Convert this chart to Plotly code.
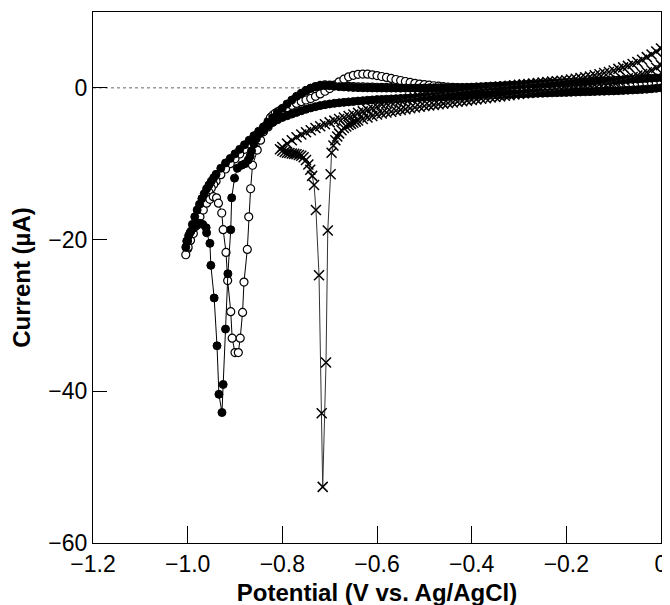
import plotly.graph_objects as go

# ---------------- data ----------------
# Filled circles: forward sweep 0 -> -1.0 V
filled_fwd_v = [0.0, -0.01, -0.02, -0.03, -0.04, -0.05, -0.06, -0.07, -0.08, -0.09,
                -0.10, -0.11, -0.12, -0.13, -0.14, -0.15, -0.16, -0.17, -0.18, -0.19,
                -0.20, -0.21, -0.22, -0.23, -0.24, -0.25, -0.26, -0.27, -0.28, -0.29,
                -0.30, -0.31, -0.32, -0.33, -0.34, -0.35, -0.36, -0.37, -0.38, -0.39,
                -0.40, -0.41, -0.42, -0.43, -0.44, -0.45, -0.46, -0.47, -0.48, -0.49,
                -0.50, -0.51, -0.52, -0.53, -0.54, -0.55, -0.56, -0.57, -0.58, -0.59,
                -0.60, -0.61, -0.62, -0.63, -0.64, -0.65, -0.66, -0.67, -0.68, -0.69,
                -0.70, -0.71, -0.72, -0.73, -0.74, -0.75, -0.76, -0.77, -0.78, -0.79,
                -0.80, -0.81, -0.82, -0.83, -0.84, -0.85, -0.86, -0.87, -0.88, -0.89,
                -0.90, -0.91, -0.92, -0.93, -0.94,
                -0.945, -0.95, -0.955, -0.96, -0.965, -0.97, -0.975, -0.98, -0.985,
                -0.99, -0.995, -1.0, -1.004]
filled_fwd_i = [1.35, 1.31, 1.27, 1.23, 1.19, 1.15, 1.12, 1.09, 1.06, 1.03,
                1.00, 0.97, 0.94, 0.91, 0.88, 0.85, 0.82, 0.79, 0.76, 0.73,
                0.70, 0.67, 0.64, 0.61, 0.58, 0.55, 0.52, 0.49, 0.46, 0.43,
                0.40, 0.37, 0.34, 0.31, 0.28, 0.25, 0.22, 0.19, 0.16, 0.13,
                0.10, 0.08, 0.06, 0.05, 0.04, 0.03, 0.02, 0.01, 0.00, 0.00,
                -0.01, -0.01, -0.02, -0.02, -0.03, -0.03, -0.03, -0.03, -0.03, -0.02,
                -0.02, -0.01, 0.00, 0.01, 0.03, 0.05, 0.08, 0.12, 0.16, 0.22,
                0.28, 0.30, 0.25, 0.12, -0.05, -0.32, -0.70, -1.12, -1.60, -2.12,
                -2.70, -3.32, -3.95, -4.55, -5.15, -5.72, -6.30, -6.90, -7.50, -8.10,
                -8.70, -9.30, -9.90, -10.60, -11.40,
                -11.85, -12.30, -12.80, -13.30, -13.95, -14.60, -15.35, -16.10, -17.00,
                -18.00, -19.10, -20.20, -21.00]

# Filled circles: return sweep -1.0 -> 0 V (with reduction peak)
filled_rev_v = [-1.002, -0.998, -0.993, -0.988, -0.984, -0.979, -0.974, -0.968, -0.961, -0.960,
                -0.953, -0.951, -0.944, -0.938, -0.934, -0.9275, -0.925, -0.920, -0.915, -0.909,
                -0.907, -0.901, -0.895, -0.886, -0.879, -0.872, -0.868, -0.865, -0.860, -0.855,
                -0.850, -0.845, -0.84, -0.83, -0.82, -0.81, -0.80, -0.79, -0.78, -0.77,
                -0.76, -0.75, -0.74, -0.73, -0.72, -0.71, -0.70, -0.69, -0.68, -0.67,
                -0.66, -0.65, -0.64, -0.63, -0.62, -0.61, -0.60,
                -0.59, -0.58, -0.57, -0.56, -0.55, -0.54, -0.53, -0.52, -0.51, -0.50,
                -0.49, -0.48, -0.47, -0.46, -0.45, -0.44, -0.43, -0.42, -0.41, -0.40,
                -0.39, -0.38, -0.37, -0.36, -0.35, -0.34, -0.33, -0.32, -0.31, -0.30,
                -0.29, -0.28, -0.27, -0.26, -0.25, -0.24, -0.23, -0.22, -0.21, -0.20,
                -0.19, -0.18, -0.17, -0.16, -0.15, -0.14, -0.13, -0.12, -0.11, -0.10,
                -0.09, -0.08, -0.07, -0.06, -0.05, -0.04, -0.03, -0.02, -0.01, 0.0]
filled_rev_i = [-20.2, -19.5, -18.9, -18.5, -18.3, -18.0, -17.85, -18.0, -18.43, -19.1,
                -20.5, -23.4, -27.7, -34.0, -40.4, -42.8, -39.1, -31.8, -24.5, -18.7,
                -14.5, -11.9, -10.6, -10.2, -10.0, -9.5, -9.0, -8.3, -7.4, -6.7,
                -6.1, -5.8, -5.6, -5.0, -4.5, -4.2, -3.9, -3.68, -3.46, -3.24,
                -3.02, -2.82, -2.64, -2.48, -2.34, -2.22, -2.12, -2.04, -1.97, -1.91,
                -1.85, -1.80, -1.74, -1.69, -1.64, -1.59, -1.55,
                -1.52, -1.49, -1.46, -1.43, -1.40, -1.37, -1.34, -1.31, -1.28, -1.25,
                -1.23, -1.21, -1.18, -1.16, -1.13, -1.11, -1.08, -1.06, -1.03, -1.00,
                -0.98, -0.96, -0.94, -0.92, -0.90, -0.88, -0.86, -0.84, -0.82, -0.80,
                -0.78, -0.76, -0.74, -0.72, -0.70, -0.68, -0.66, -0.64, -0.62, -0.60,
                -0.58, -0.56, -0.54, -0.52, -0.50, -0.48, -0.46, -0.44, -0.42, -0.40,
                -0.37, -0.34, -0.31, -0.28, -0.25, -0.21, -0.17, -0.12, -0.06, 0.00]

# Open circles: forward sweep 0 -> -1.0 V
open_fwd_v = list(filled_fwd_v)
open_fwd_i = [1.05, 1.01, 0.97, 0.93, 0.89, 0.85, 0.82, 0.79, 0.76, 0.73,
              0.70, 0.67, 0.64, 0.61, 0.58, 0.55, 0.52, 0.49, 0.46, 0.43,
              0.40, 0.37, 0.34, 0.31, 0.28, 0.25, 0.22, 0.19, 0.16, 0.13,
              0.10, 0.08, 0.06, 0.04, 0.02, 0.00, -0.02, -0.04, -0.06, -0.08,
              -0.10, -0.10, -0.10, -0.09, -0.08, -0.07, -0.06, -0.05, -0.04, -0.03,
              -0.02, -0.01, 0.00, 0.01, 0.02, 0.03, 0.04, 0.05, 0.06, 0.07,
              0.08, 0.09, 0.10, 0.12, 0.14, 0.17, 0.20, 0.24, 0.28, 0.32,
              0.36, 0.38, 0.32, 0.18, -0.05, -0.40, -0.82, -1.32, -1.88, -2.48,
              -3.30, -3.95, -4.55, -5.15, -5.72, -6.30, -6.90, -7.50, -8.10, -8.72,
              -9.35, -10.00, -10.70, -11.45, -12.30,
              -12.75, -13.25, -13.75, -14.30, -14.90, -15.55, -16.30, -17.10, -18.00,
              -19.00, -20.15, -21.20, -22.00]

# Open circles: return sweep -1.0 -> 0 V (peak, then anodic hump)
open_rev_v = [-0.999, -0.994, -0.988, -0.981, -0.974, -0.967, -0.960, -0.953, -0.946, -0.939,
              -0.935, -0.928, -0.925, -0.919, -0.9155, -0.909, -0.906, -0.900, -0.893, -0.889,
              -0.884, -0.881, -0.874, -0.871, -0.867, -0.863, -0.853, -0.846, -0.840, -0.835,
              -0.830, -0.825, -0.820, -0.815, -0.810, -0.805, -0.80,
              -0.79, -0.78, -0.77, -0.76, -0.75, -0.74, -0.73, -0.72, -0.71, -0.70,
              -0.69, -0.68, -0.67, -0.66, -0.65, -0.64, -0.63, -0.62, -0.61, -0.60,
              -0.59, -0.58, -0.57, -0.56, -0.55, -0.54, -0.53, -0.52, -0.51, -0.50,
              -0.49, -0.48, -0.47, -0.46, -0.45, -0.44, -0.43, -0.42, -0.41, -0.40,
              -0.39, -0.38, -0.37, -0.36, -0.35, -0.34, -0.33, -0.32, -0.31, -0.30,
              -0.29, -0.28, -0.27, -0.26, -0.25, -0.24, -0.23, -0.22, -0.21, -0.20,
              -0.19, -0.18, -0.17, -0.16, -0.15, -0.14, -0.13, -0.12, -0.11, -0.10,
              -0.09, -0.08, -0.07, -0.06, -0.05, -0.04, -0.03, -0.02, -0.01, 0.0]
open_rev_i = [-21.0, -20.1, -19.2, -18.1, -17.0, -16.1, -15.2, -14.7, -14.35, -14.5,
              -15.2, -16.5, -18.7, -21.7, -25.4, -29.5, -33.0, -34.9, -34.9, -33.0,
              -29.6, -25.6, -21.3, -17.0, -13.3, -10.2, -8.2, -6.9, -5.8, -5.0,
              -4.4, -3.9, -3.6, -3.35, -3.15, -3.0, -2.85,
              -2.60, -2.30, -2.05, -1.82, -1.60, -1.40, -1.12, -0.80, -0.45, -0.10,
              0.35, 0.80, 1.15, 1.45, 1.65, 1.78, 1.82, 1.80, 1.72, 1.62,
              1.50, 1.38, 1.25, 1.10, 0.97, 0.84, 0.72, 0.60, 0.50, 0.42,
              0.35, 0.28, 0.22, 0.16, 0.11, 0.07, 0.03, 0.00, -0.02, -0.03,
              -0.03, -0.03, -0.02, -0.01, 0.00, 0.01, 0.03, 0.05, 0.07, 0.09,
              0.11, 0.13, 0.15, 0.17, 0.19, 0.21, 0.23, 0.25, 0.27, 0.29,
              0.31, 0.33, 0.35, 0.37, 0.39, 0.41, 0.43, 0.45, 0.47, 0.49,
              0.51, 0.53, 0.55, 0.57, 0.59, 0.61, 0.63, 0.65, 0.67, 0.70]

# Crosses: forward sweep 0 -> -0.8 V
cross_fwd_v = [0.0, -0.01, -0.02, -0.03, -0.04, -0.05, -0.06, -0.07, -0.08, -0.09,
               -0.10, -0.11, -0.12, -0.13, -0.14, -0.15, -0.16, -0.17, -0.18, -0.19,
               -0.20, -0.21, -0.22, -0.23, -0.24, -0.25, -0.26, -0.27, -0.28, -0.29,
               -0.30, -0.31, -0.32, -0.33, -0.34, -0.35, -0.36, -0.37, -0.38, -0.39,
               -0.40, -0.41, -0.42, -0.43, -0.44, -0.45, -0.46, -0.47, -0.48, -0.49,
               -0.50, -0.51, -0.52, -0.53, -0.54, -0.55, -0.56, -0.57, -0.58, -0.59,
               -0.60, -0.61, -0.62, -0.63, -0.64, -0.65, -0.66, -0.67, -0.68, -0.69,
               -0.70, -0.71, -0.72, -0.73, -0.74, -0.75, -0.76, -0.77, -0.78, -0.79,
               -0.80, -0.805]
cross_fwd_i = [5.20, 4.80, 4.40, 4.05, 3.70, 3.40, 3.15, 2.90, 2.70, 2.50,
               2.30, 2.10, 1.95, 1.80, 1.65, 1.50, 1.40, 1.30, 1.20, 1.10,
               1.00, 0.94, 0.88, 0.82, 0.76, 0.70, 0.64, 0.58, 0.52, 0.46,
               0.40, 0.34, 0.28, 0.22, 0.16, 0.10, 0.03, -0.04, -0.12, -0.20,
               -0.28, -0.36, -0.44, -0.52, -0.60, -0.68, -0.76, -0.84, -0.92, -1.00,
               -1.08, -1.20, -1.30, -1.40, -1.50, -1.62, -1.75, -1.90, -2.05, -2.20,
               -2.50, -2.70, -2.90, -3.10, -3.30, -3.50, -3.70, -3.90, -4.10, -4.32,
               -4.55, -4.80, -5.05, -5.30, -5.58, -5.86, -6.15, -6.50, -6.90, -7.35,
               -7.80, -8.10]

# Crosses: return sweep -0.8 -> 0 V (sharp peak near -0.715 V)
cross_rev_v = [-0.80, -0.795, -0.79, -0.785, -0.78, -0.775, -0.77, -0.765, -0.76, -0.755,
               -0.75, -0.745, -0.741, -0.737, -0.733, -0.729, -0.7225, -0.7168, -0.7147, -0.7077,
               -0.704, -0.698, -0.696, -0.692, -0.688, -0.684, -0.68, -0.675, -0.67, -0.665,
               -0.66, -0.655, -0.65, -0.645, -0.64, -0.63, -0.62, -0.61, -0.60,
               -0.59, -0.58, -0.57, -0.56, -0.55, -0.54, -0.53, -0.52, -0.51, -0.50,
               -0.49, -0.48, -0.47, -0.46, -0.45, -0.44, -0.43, -0.42, -0.41, -0.40,
               -0.39, -0.38, -0.37, -0.36, -0.35, -0.34, -0.33, -0.32, -0.31, -0.30,
               -0.29, -0.28, -0.27, -0.26, -0.25, -0.24, -0.23, -0.22, -0.21, -0.20,
               -0.19, -0.18, -0.17, -0.16, -0.15, -0.14, -0.13, -0.12, -0.11, -0.10,
               -0.09, -0.08, -0.07, -0.06, -0.05, -0.04, -0.03, -0.02, -0.01, 0.0]
cross_rev_i = [-8.30, -8.45, -8.55, -8.60, -8.65, -8.70, -8.75, -8.85, -8.95, -9.15,
               -9.50, -10.10, -10.80, -11.60, -12.80, -16.10, -24.70, -42.90, -52.60, -36.20,
               -18.80, -11.40, -8.55, -7.60, -6.90, -6.40, -6.00, -5.60, -5.30, -5.10,
               -4.90, -4.75, -4.60, -4.45, -4.30, -4.10, -3.90, -3.70, -3.50,
               -3.38, -3.26, -3.14, -3.02, -2.90, -2.80, -2.70, -2.60, -2.50, -2.40,
               -2.32, -2.24, -2.16, -2.08, -2.00, -1.92, -1.84, -1.76, -1.68, -1.60,
               -1.52, -1.44, -1.36, -1.28, -1.20, -1.12, -1.04, -0.96, -0.88, -0.80,
               -0.73, -0.66, -0.59, -0.52, -0.45, -0.38, -0.31, -0.24, -0.17, -0.10,
               -0.03, 0.04, 0.12, 0.20, 0.28, 0.37, 0.47, 0.58, 0.70, 0.82,
               0.95, 1.10, 1.26, 1.43, 1.62, 1.82, 2.05, 2.32, 2.65, 3.00]

x_tick_vals = [-1.2, -1.0, -0.8, -0.6, -0.4, -0.2, 0]
x_tick_text = ["\u22121.2", "\u22121.0", "\u22120.8", "\u22120.6", "\u22120.4", "\u22120.2", "0"]
y_tick_vals = [-60, -40, -20, 0]
y_tick_text = ["\u221260", "\u221240", "\u221220", "0"]

# ---------------- figure ----------------
FONT = "Liberation Sans, Arial, sans-serif"
fig = go.Figure()

fig.add_trace(go.Scatter(
    x=open_fwd_v + open_rev_v, y=open_fwd_i + open_rev_i,
    mode="lines+markers", line=dict(color="black", width=1),
    marker=dict(symbol="circle", size=8, color="white",
                line=dict(color="black", width=1.2)),
    showlegend=False))

fig.add_trace(go.Scatter(
    x=filled_fwd_v + filled_rev_v, y=filled_fwd_i + filled_rev_i,
    mode="lines+markers", line=dict(color="black", width=1),
    marker=dict(symbol="circle", size=8, color="black",
                line=dict(color="black", width=1)),
    showlegend=False))

fig.add_trace(go.Scatter(
    x=cross_fwd_v + cross_rev_v, y=cross_fwd_i + cross_rev_i,
    mode="lines+markers", line=dict(color="#333333", width=1),
    marker=dict(symbol="x-thin", size=10, color="black",
                line=dict(color="black", width=1.5)),
    showlegend=False))

fig.add_shape(type="line", xref="x", yref="y", x0=-1.2, x1=0, y0=0, y1=0,
              line=dict(color="#666666", width=1, dash="dot"), layer="below")

fig.update_layout(
    width=670, height=605,
    margin=dict(l=85, r=17, t=4, b=70),
    paper_bgcolor="white", plot_bgcolor="white",
    font=dict(family=FONT, size=23, color="black"),
)
fig.update_xaxes(
    range=[-1.2, 0], tickvals=x_tick_vals, ticktext=x_tick_text,
    ticks="inside", ticklen=17, tickwidth=1.3, tickcolor="black",
    showline=True, linecolor="black", linewidth=1.3, mirror=True,
    showgrid=False, zeroline=False,
    tickfont=dict(family=FONT, size=23),
    title=dict(text="<b>Potential (V vs. Ag/AgCl)</b>", standoff=8,
               font=dict(family=FONT, size=24)),
)
fig.update_yaxes(
    range=[-60, 10], tickvals=y_tick_vals, ticktext=y_tick_text,
    ticks="inside", ticklen=14, tickwidth=1.3, tickcolor="black",
    showline=True, linecolor="black", linewidth=1.3, mirror=True,
    showgrid=False, zeroline=False,
    tickfont=dict(family=FONT, size=23),
    title=dict(text="<b>Current (\u00b5A)</b>", standoff=10,
               font=dict(family=FONT, size=24)),
)

fig.write_html("out.html")
